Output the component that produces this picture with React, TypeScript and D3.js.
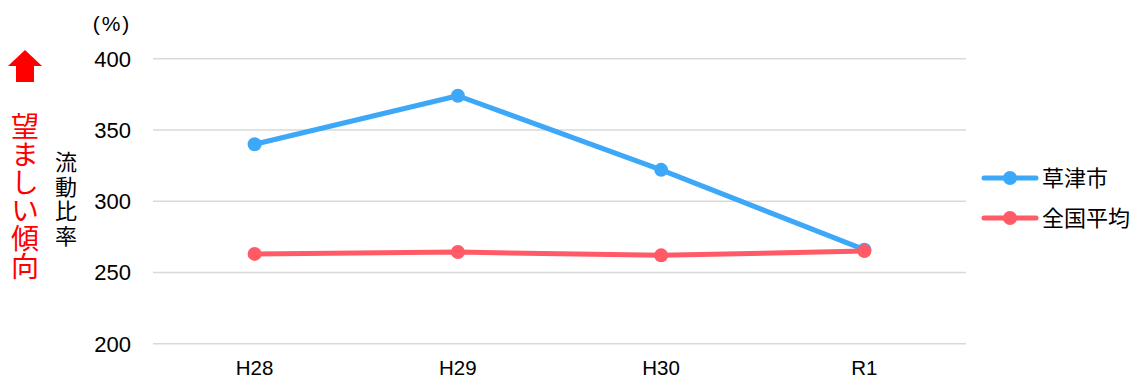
import React from "react";
import * as d3 from "d3";

const categories = ["H28", "H29", "H30", "R1"];
const kusatsuValues = [340, 374, 322, 266];
const nationalValues = [263, 264.3, 262, 265];
const yTicks = [200, 250, 300, 350, 400];
const seriesNames = ["草津市", "全国平均"];
const seriesColors = ["#3ea8f8", "#ff5a66"];
const axisTitle = "流動比率";
const trendNote = "望ましい傾向";
const unitLabel = "(%)";

const W = 1138;
const H = 381;
const plot = { left: 153, right: 966, top: 58.7, bottom: 343.7 };

const FONT = "'Liberation Sans', Arial, 'Noto Sans CJK JP', sans-serif";
const JP = "'Noto Sans CJK JP', 'Liberation Sans', sans-serif";

export default function App() {
  const x = d3
    .scaleBand<string>()
    .domain(categories)
    .range([plot.left, plot.right])
    .padding(0);
  const y = d3.scaleLinear().domain([200, 400]).range([plot.bottom, plot.top]);
  const cx = (c: string) => (x(c) as number) + x.bandwidth() / 2;

  const line = d3
    .line<number>()
    .x((_, i) => cx(categories[i]))
    .y((v) => y(v));

  const series = [kusatsuValues, nationalValues];

  return (
    <svg
      width={W}
      height={H}
      style={{ position: "absolute", left: 0, top: 0, background: "#fff" }}
    >
      {/* gridlines */}
      {yTicks.map((t) => (
        <line
          key={t}
          x1={plot.left}
          x2={plot.right}
          y1={y(t)}
          y2={y(t)}
          stroke="#d9d9d9"
          strokeWidth={1.5}
        />
      ))}
      {/* y tick labels */}
      {yTicks.map((t) => (
        <text
          key={"l" + t}
          x={131}
          y={y(t)}
          dy="0.36em"
          textAnchor="end"
          fontFamily={FONT}
          fontSize={22}
          fill="#000"
        >
          {t}
        </text>
      ))}
      <text
        x={112}
        y={23}
        dy="0.36em"
        textAnchor="middle"
        fontFamily={FONT}
        fontSize={21}
        letterSpacing={2}
        fill="#000"
      >
        {unitLabel}
      </text>
      {/* x labels */}
      {categories.map((c) => (
        <text
          key={c}
          x={cx(c)}
          y={368}
          dy="0.36em"
          textAnchor="middle"
          fontFamily={FONT}
          fontSize={20.5}
          fill="#000"
        >
          {c}
        </text>
      ))}
      {/* series */}
      {series.map((vals, si) => (
        <g key={si}>
          <path
            d={line(vals) || ""}
            fill="none"
            stroke={seriesColors[si]}
            strokeWidth={5}
            strokeLinejoin="round"
          />
          {vals.map((v, i) => (
            <circle key={i} cx={cx(categories[i])} cy={y(v)} r={7} fill={seriesColors[si]} />
          ))}
        </g>
      ))}
      {/* legend */}
      {seriesNames.map((name, i) => {
        const ly = 178 + i * 40;
        return (
          <g key={name}>
            <line
              x1={984}
              x2={1036}
              y1={ly}
              y2={ly}
              stroke={seriesColors[i]}
              strokeWidth={5}
              strokeLinecap="round"
            />
            <circle cx={1010} cy={ly} r={7} fill={seriesColors[i]} />
            <text x={1042} y={ly} dy="0.36em" fontFamily={JP} fontSize={22} fill="#000">
              {name}
            </text>
          </g>
        );
      })}
      {/* axis title, vertical */}
      <text
        x={66}
        y={151}
        fontFamily={JP}
        fontSize={22}
        letterSpacing={2.5}
        fill="#000"
        style={{ writingMode: "vertical-rl" }}
      >
        {axisTitle}
      </text>
      {/* preferred-direction arrow and note */}
      <path d="M25,50 L42,66 L34,66 L34,82 L16,82 L16,66 L8,66 Z" fill="#ff0000" />
      <text
        x={25}
        y={112}
        fontFamily={JP}
        fontSize={28}
        fill="#ff0000"
        style={{ writingMode: "vertical-rl" }}
      >
        {trendNote}
      </text>
    </svg>
  );
}
